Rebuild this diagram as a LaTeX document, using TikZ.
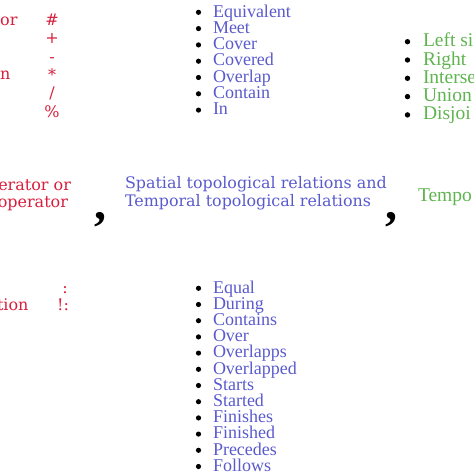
\documentclass[tikz,border=0pt]{standalone}
\usepackage{fontspec}
\setmainfont{Liberation Serif}
\newfontfamily\dvs{DejaVu Serif}
\definecolor{opred}{RGB}{215,30,60}
\definecolor{relblue}{RGB}{90,90,205}
\definecolor{tgreen}{RGB}{95,180,80}
\tikzset{
  txt/.style={inner sep=0pt, outer sep=0pt},
  redtxt/.style={txt, text=opred, font=\dvs\fontsize{16}{17}\selectfont},
  bluetxt/.style={txt, text=relblue, font=\fontsize{18}{16}\selectfont, anchor=base west},
  midtxt/.style={txt, text=relblue, font=\dvs\fontsize{15.9}{17}\selectfont, anchor=base west},
  greentxt/.style={txt, text=tgreen, font=\fontsize{19.5}{17}\selectfont, anchor=base west},
  bigcomma/.style={txt, font=\bfseries\fontsize{48}{48}\selectfont, anchor=base},
  dot/.style={fill=black, draw=none}
}
\begin{document}
\begin{tikzpicture}[x=1pt,y=-1pt]
\useasboundingbox (0,0) rectangle (474,474);
\clip (0,0) rectangle (474,474);
% top-left red
\node[redtxt, anchor=base east] (tl1) at (17.5,25) {or};
\node[redtxt, anchor=base east] (tl2) at (10.5,79) {n};
\foreach \s/\y [count=\i] in {{\#}/25, {+}/43.5, {-}/62, {*}/80, {/}/98.5, {\%}/117}{
  \node[redtxt, anchor=base] (sym\i) at (52,\y) {\s};
}
% top middle list
\foreach \t [count=\i from 0] in {Equivalent,Meet,Cover,Covered,Overlap,Contain,In}{
  \pgfmathsetmacro\yy{17+16.3*\i}
  \node[bluetxt] (sp\i) at (213,\yy) {\t};
  \fill[dot] (198.5,\yy-4.7) circle (2.6);
}
% top right green list
\foreach \t [count=\i from 0] in {Left si,Right,Interse,Union,Disjoi}{
  \pgfmathsetmacro\yy{46.7+18.3*\i}
  \node[greentxt] (gr\i) at (423,\yy) {\t};
  \fill[dot] (407.5,\yy-5) circle (2.7);
}
% middle row
\node[redtxt, anchor=base east] (op1) at (71,190) {erator or};
\node[redtxt, anchor=base east] (op2) at (68,207) {operator};
\node[bigcomma] (c1) at (100.5,219) {,};
\node[midtxt] (rel1) at (125,188.5) {Spatial topological relations and};
\node[midtxt] (rel2) at (125,206) {Temporal topological relations};
\node[bigcomma] (c2) at (391.5,219) {,};
\node[greentxt] (tmp) at (418,201.5) {Tempo};
% bottom-left red
\node[redtxt, anchor=base east] (fn) at (28.5,310) {tion};
\node[redtxt, anchor=base] (col1) at (65,293) {:};
\node[redtxt, anchor=base] (col2) at (63,310) {!:};
% bottom middle list
\foreach \t [count=\i from 0] in {Equal,During,Contains,Over,Overlapps,Overlapped,Starts,Started,Finishes,Finished,Precedes,Follows}{
  \pgfmathsetmacro\yy{293+16.2*\i}
  \node[bluetxt] (tp\i) at (213,\yy) {\t};
  \fill[dot] (198.5,\yy-4.7) circle (2.6);
}
\end{tikzpicture}
\end{document}
